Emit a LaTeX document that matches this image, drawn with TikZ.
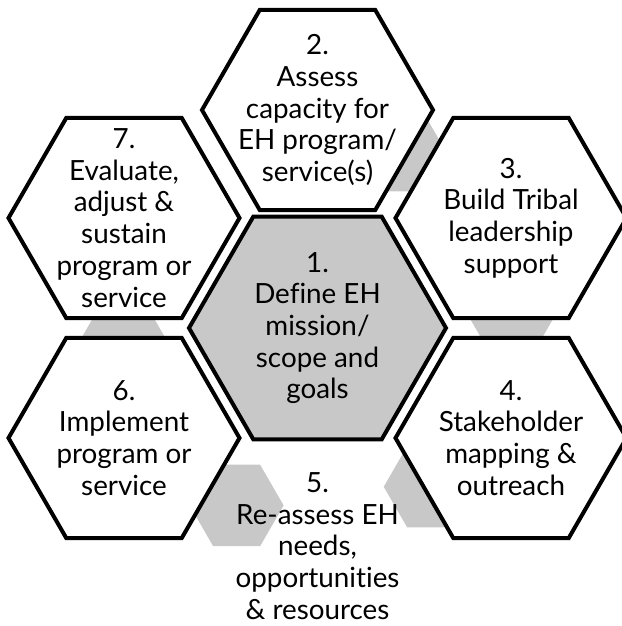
\documentclass[tikz,border=0pt]{standalone}
\usepackage{fontspec}
\setmainfont[Ligatures=NoCommon]{Lato}
\usetikzlibrary{shapes.geometric}

\definecolor{hexgray}{RGB}{200,200,200}

\tikzset{
  hexa/.style={regular polygon, regular polygon sides=6, inner sep=0pt, outer sep=0pt, line width=4pt},
  bighex/.style={hexa, draw, fill=white, minimum size=231pt},
  midhex/.style={hexa, draw, fill=hexgray, minimum size=257pt},
  joint/.style={hexa, fill=hexgray, minimum size=94pt},
  steptext/.style={align=center, inner sep=0pt, font=\fontsize{27.8pt}{31.7pt}\selectfont}
}

\begin{document}
\begin{tikzpicture}[x=1pt,y=1pt]
  \useasboundingbox (-317.5,-298) rectangle (303.5,328);

  % small grey joints behind the ring
  \node[joint] (j34) at (5.5:195) {};
  \node[joint] (j23) at (65.5:195) {};
  \node[joint] (j67) at (185.5:195) {};
  \node[joint] (j56) at (245.5:195) {};
  \node[joint] (j45) at (305.5:195) {};

  % the ring of steps
  \node[midhex] (h1) at (0,0) {};
  \node[bighex] (h2) at (0,218) {};
  \node[bighex] (h3) at (193.5,110) {};
  \node[bighex] (h4) at (193.5,-110) {};
  \coordinate (h5) at (0,-218);
  \node[bighex] (h6) at (-193.5,-110) {};
  \node[bighex] (h7) at (-193.5,110) {};

  \node[steptext] (t1) at (h1) {1.\\Define EH\\mission/\\scope and\\goals};
  \node[steptext] (t2) at (h2) {2.\\Assess\\capacity for\\EH program/\\service(s)};
  \node[steptext] (t3) at (h3) {3.\\Build Tribal\\leadership\\support};
  \node[steptext] (t4) at (h4) {4.\\Stakeholder\\mapping \&\\outreach};
  \node[steptext] (t5) at (h5) {5.\\Re-assess EH\\needs,\\opportunities\\\& resources};
  \node[steptext] (t6) at (h6) {6.\\Implement\\program or\\service};
  \node[steptext] (t7) at (h7) {7.\\Evaluate,\\adjust \&\\sustain\\program or\\service};
\end{tikzpicture}
\end{document}
